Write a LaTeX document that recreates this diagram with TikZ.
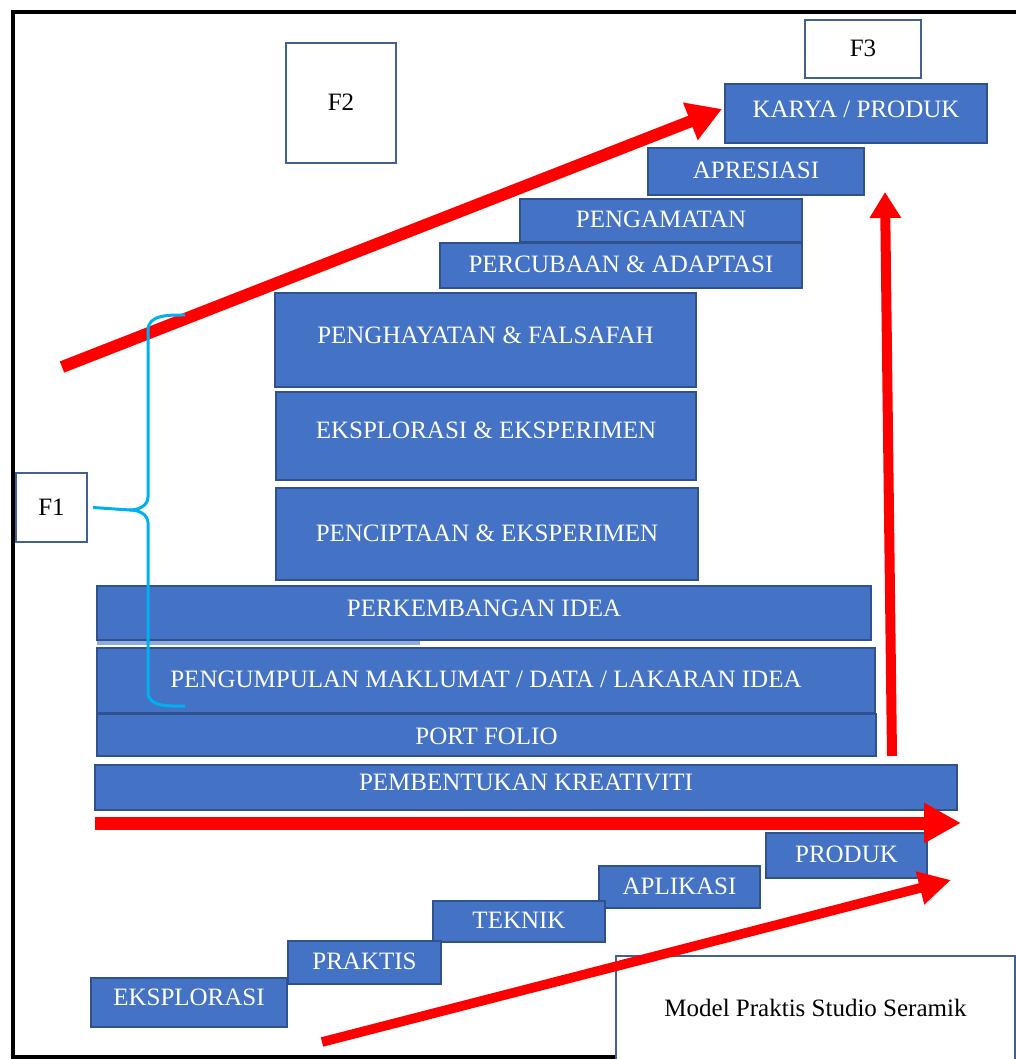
\documentclass[tikz,border=0pt]{standalone}
\usepackage{fontspec}
\setmainfont{Liberation Serif}
\usetikzlibrary{arrows.meta}
\definecolor{boxblue}{HTML}{4472C4}
\definecolor{boxedge}{HTML}{2F528F}
\definecolor{fedge}{HTML}{41628F}
\definecolor{bracecyan}{HTML}{00B0F0}
\definecolor{stripblue}{HTML}{8FAADC}
\definecolor{arrred}{HTML}{FF0000}
\tikzset{
  bluebox/.style={draw=boxedge, fill=boxblue, line width=0.6pt, inner sep=0pt, outer sep=0pt,
    text=white, font=\fontsize{12.5}{14}\selectfont, text height=8.3pt, text depth=1.2pt},
  fbox/.style={draw=fedge, fill=white, line width=0.6pt, inner sep=0pt, outer sep=0pt,
    text=black, font=\fontsize{12.5}{14}\selectfont, text height=8.3pt, text depth=0.6pt},
  sz/.style 2 args={minimum width=#1, minimum height=#2},
  tup/.style={text depth=#1},
  redarrow/.style={draw=arrred, line cap=butt},
  bracestyle/.style={draw=bracecyan, line width=1.5pt, line join=round}
}
\begin{document}
\begin{tikzpicture}[x=0.5pt,y=-0.5pt]
\useasboundingbox (0,0) rectangle (1016,1059);
\fill[white] (0,0) rectangle (1016,1059);
% outer frame
\draw[black, line width=2pt] (1020,12) -- (13,12) -- (13,1057) -- (1020,1057);

% F boxes
\node[fbox, sz={55pt}{60pt}] (f2) at (341,103) {F2};
\node[fbox, sz={58pt}{29pt}] (f3) at (863,49) {F3};
\node[fbox, sz={35.5pt}{34.5pt}] (f1) at (51.5,507.5) {F1};

% upper stair
\node[bluebox, tup=4.2pt, sz={131pt}{29.5pt}] (karya) at (856,113.5) {KARYA / PRODUK};
\node[bluebox, sz={108pt}{23.5pt}] (apres) at (756,171.5) {APRESIASI};
\node[bluebox, sz={181pt}{22.5pt}] (percub) at (621,265.5) {PERCUBAAN \& ADAPTASI};
\node[bluebox, sz={141pt}{21.5pt}] (pengam) at (661,220.5) {PENGAMATAN};
\node[bluebox, tup=5.2pt, sz={210.5pt}{47pt}] (penghay) at (485.5,340) {PENGHAYATAN \& FALSAFAH};
\node[bluebox, tup=6.2pt, sz={210pt}{44pt}] (ekspe) at (486,436) {EKSPLORASI \& EKSPERIMEN};
\node[bluebox, sz={211pt}{46pt}] (pencip) at (487,534) {PENCIPTAAN \& EKSPERIMEN};
\node[bluebox, tup=5.2pt, sz={387pt}{27pt}] (perkem) at (484,613) {PERKEMBANGAN IDEA};
\draw[stripblue, line width=2pt] (97,643) -- (420,643);
\node[bluebox, sz={389pt}{32.5pt}] (pengum) at (486,680.5) {PENGUMPULAN MAKLUMAT / DATA / LAKARAN IDEA};
\node[bluebox, text height=10.3pt, sz={389.5pt}{21pt}] (port) at (486.5,735) {PORT FOLIO};
\node[bluebox, tup=5.2pt, sz={431pt}{22.5pt}] (pembent) at (526,787.5) {PEMBENTUKAN KREATIVITI};

% lower stair
\node[bluebox, sz={80.5pt}{22.5pt}] (produk) at (846.5,855.5) {PRODUK};
\node[bluebox, sz={80.5pt}{21pt}] (aplik) at (679.5,887) {APLIKASI};
\node[bluebox, sz={86pt}{20.5pt}] (teknik) at (519,921.5) {TEKNIK};
\node[bluebox, sz={76.5pt}{21.5pt}] (praktis) at (364.5,962.5) {PRAKTIS};
\node[bluebox, tup=5.2pt, sz={98pt}{24.5pt}] (eksplor) at (189,1002.5) {EKSPLORASI};

% caption box
\node[fbox, sz={199.5pt}{53pt}] (model) at (815.5,1009) {Model Praktis Studio Seramik};

% red arrows
\coordinate (h1) at (95,823);
\coordinate (h2) at (961,823);
\draw[redarrow, line width=6.5pt, -{Triangle[length=18.5pt,width=19pt]}] (h1) -- (h2);

\coordinate (d1) at (62,367);
\coordinate (d2) at (722,109);
\draw[redarrow, line width=6pt, -{Triangle[length=17pt,width=19pt]}] (d1) -- (d2);

\coordinate (v1) at (892,756);
\coordinate (v2) at (885,192);
\draw[redarrow, line width=5pt, -{Triangle[length=13pt,width=15pt]}] (v1) -- (v2);

\coordinate (b1) at (322,1042);
\coordinate (b2) at (951,880);
\draw[redarrow, line width=4.8pt, -{Triangle[length=16pt,width=16pt]}] (b1) -- (b2);

% brace
\coordinate (bt) at (185,315);
\coordinate (bb) at (185,706);
\coordinate (bm) at (130,510);
\draw[bracestyle] (bt) to[out=180,in=90] (148,330) -- (148,497) to[out=-90,in=0] (bm);
\draw[bracestyle] (bm) to[out=0,in=90] (148,523) -- (148,692) to[out=-90,in=180] (bb);
\draw[bracestyle] ([xshift=3pt]f1.east) -- (bm);
\end{tikzpicture}
\end{document}
